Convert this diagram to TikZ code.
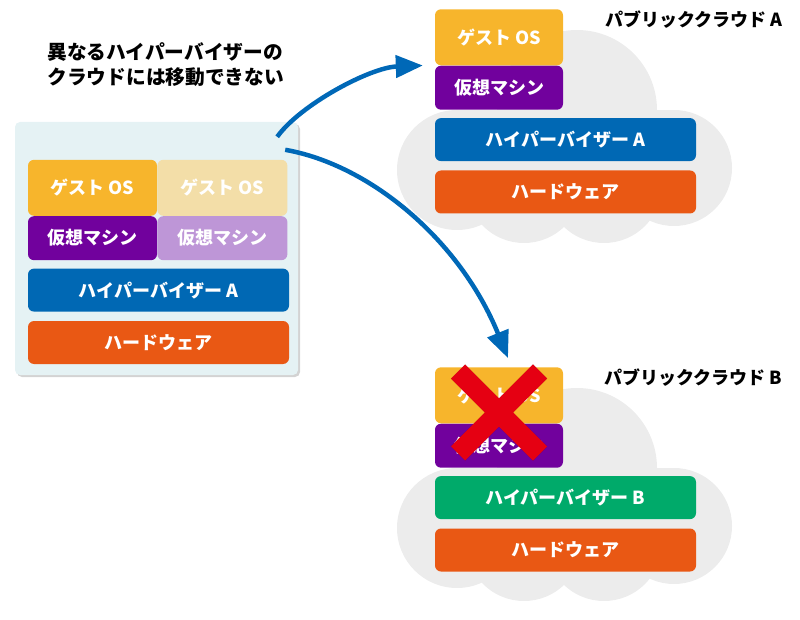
\documentclass[tikz,border=0pt]{standalone}
\usepackage{fontspec}
\setmainfont{Noto Sans CJK JP}
\usetikzlibrary{positioning, arrows.meta, shadows}

\definecolor{gosyellow}{HTML}{F7B52C}
\definecolor{gosfade}{HTML}{F3DEA8}
\definecolor{vmpurple}{HTML}{71019D}
\definecolor{vmfade}{HTML}{BE96D7}
\definecolor{hvblue}{HTML}{0068B4}
\definecolor{hvgreen}{HTML}{00AA6A}
\definecolor{hworange}{HTML}{E95814}
\definecolor{hostbg}{HTML}{E5F2F4}
\definecolor{cloudgray}{HTML}{ECECEC}
\definecolor{arrowblue}{HTML}{0068B7}
\definecolor{ngred}{HTML}{E50012}

\begin{document}
\begin{tikzpicture}[x=1pt, y=-1pt, node distance=8pt, >={Triangle[length=27pt, width=22pt]},
    layer/.style={rounded corners=6pt, text=white, inner sep=0pt,
        font=\fontsize{18}{22}\selectfont\bfseries, minimum width=261pt, minimum height=43pt},
    gos/.style={layer, fill=gosyellow, minimum width=129pt, minimum height=56pt},
    vm/.style={layer, fill=vmpurple, minimum width=129pt, minimum height=44pt},
    hv/.style={layer, fill=hvblue},
    hw/.style={layer, fill=hworange},
    host/.style={fill=hostbg, rounded corners=5pt, minimum width=283pt, minimum height=253pt,
        drop shadow={shadow xshift=2pt, shadow yshift=-2pt, opacity=.35, fill=gray}},
    lbl/.style={font=\fontsize{18}{22}\selectfont\bfseries},
    move/.style={->, line width=4.5pt, arrowblue}]
    \useasboundingbox (0,0) rectangle (800,620);

    % Caption
    \node[lbl, font=\fontsize{19.7}{25}\selectfont\bfseries, align=left, anchor=west] (capt) at (44,65)
        {異なるハイパーバイザーの\\クラウドには移動できない};

    % Host stack
    \node[host] (host) at (156.5,248.5) {};
    \node[hw] (hw0) at (158.5,342.5) {ハードウェア};
    \node[hv] (hv0) [above=9pt of hw0] {ハイパーバイザー A};
    \node[vm] (vm1) [above right=8pt and 0pt of hv0.north west] {仮想マシン};
    \node[vm, fill=vmfade, minimum width=130pt] (vm2) [right=0pt of vm1] {仮想マシン};
    \node[gos] (gos1) [above=0pt of vm1] {ゲスト OS};
    \node[gos, fill=gosfade, minimum width=130pt] (gos2) [above=0pt of vm2] {ゲスト OS};

    % Public clouds
    \foreach \c/\dy/\col in {A/0/hvblue, B/358/hvgreen} {
        \begin{scope}[shift={(0,\dy)}]
            \fill[cloudgray] (457,170) circle[radius=60];
            \fill[cloudgray] (577,110) circle[radius=80];
            \fill[cloudgray] (674,168) circle[radius=58];
            \fill[cloudgray] (524,185) circle[radius=58];
            \fill[cloudgray] (604,185) circle[radius=58];
            \fill[cloudgray] (457,110) rectangle (674,200);
            \node[hw] (hw\c) at (565.5,192) {ハードウェア};
            \node[lbl, anchor=east] (lbl\c) at (786,20) {パブリッククラウド \c};
        \end{scope}
        \node[hv, fill=\col] (hv\c) [above=9pt of hw\c] {ハイパーバイザー \c};
        \node[vm, minimum width=128pt] (vm\c) [above right=8pt and 0pt of hv\c.north west] {仮想マシン};
        \node[gos, minimum width=128pt] (gos\c) [above=0pt of vm\c] {ゲスト OS};
    }

    % Migration
    \draw[move] ([xshift=-21pt, yshift=-15pt]host.north east)
        .. controls +(23,-32) and +(-53,2) .. ([xshift=-12pt]gosA.south west);
    \draw[move] ([xshift=-13pt, yshift=-28pt]host.north east)
        .. controls +(85,15) and +(-48,-118) .. ([xshift=9pt, yshift=9pt]gosB.north);

    % Not possible
    \coordinate (ng) at ([yshift=11pt]gosB.south);
    \begin{scope}[shift={(2,2)}]
        \draw[line width=20pt, black, opacity=.3] (ng) +(-41,-41) -- +(41,41) (ng) +(41,-41) -- +(-41,41);
    \end{scope}
    \draw[line width=20pt, ngred] (ng) +(-41,-41) -- +(41,41) (ng) +(41,-41) -- +(-41,41);

\end{tikzpicture}
\end{document}
